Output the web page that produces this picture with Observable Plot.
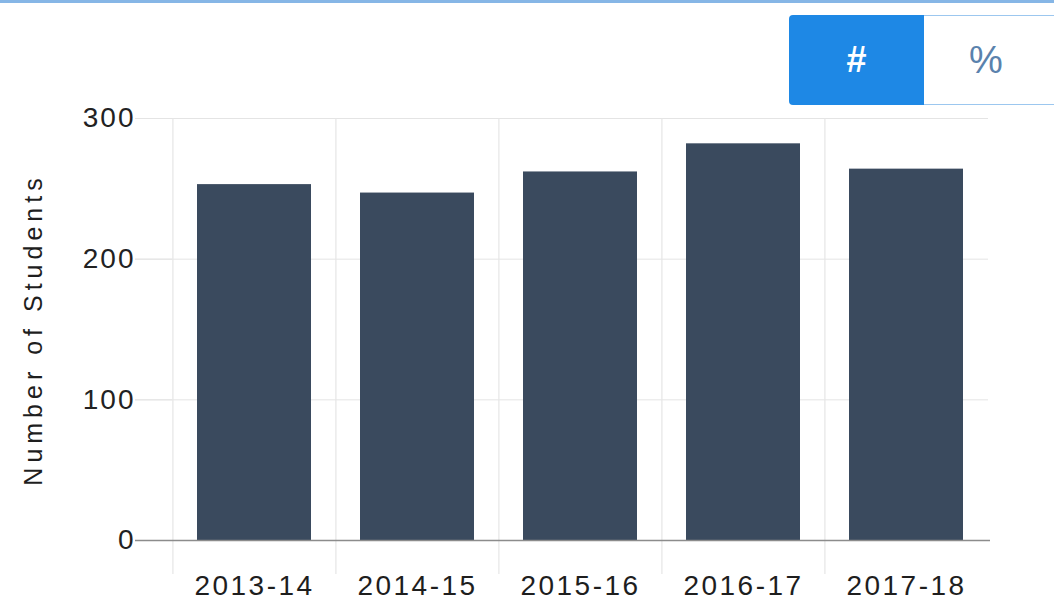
<!DOCTYPE html>
<html>
<head>
<meta charset="utf-8">
<script src="https://cdn.jsdelivr.net/npm/d3@7"></script>
<script src="https://cdn.jsdelivr.net/npm/@observablehq/plot@0.6"></script>
<style>
  html, body { margin: 0; padding: 0; background: #fff; overflow: hidden; }
  #wrap { position: relative; width: 1054px; height: 607px; font-family: "Liberation Sans", Arial, sans-serif; }
  #topline { position: absolute; left: 0; top: 0; width: 1054px; height: 0; border-top: 3px solid #86b6e6; }
  #chart { position: absolute; left: 0; top: 0; }
  #toggle { position: absolute; left: 789px; top: 15px; width: 270px; height: 90px; display: flex; }
  #toggle .on { width: 135px; height: 90px; background: #1e88e5; color: #fff; border-radius: 4px 0 0 4px;
    display: flex; align-items: center; justify-content: center; font-size: 36px; font-weight: bold; }
  #toggle .off { flex: 1; height: 88px; background: #fff; color: #5a82ad; border: 1px solid #9cc7ef; border-left: none;
    display: flex; align-items: center; justify-content: flex-start; padding-left: 45px; font-size: 38px; }
</style>
</head>
<body>
<div id="wrap">
  <div id="chart"></div>
  <div id="topline"></div>
  <div id="toggle"><div class="on">#</div><div class="off">%</div></div>
</div>
<script>
const years = ["2013-14", "2014-15", "2015-16", "2016-17", "2017-18"];
const students = [253, 247, 262, 282, 264];
const yTicks = [0, 100, 200, 300];
const yTitle = "Number of Students";

const data = years.map((y, i) => ({year: y, value: students[i]}));

const W = 1054, H = 607;
const mL = 172, mR = 66, mT = 118, mB = 67;
const step = (W - mL - mR) / years.length;

const chart = Plot.plot({
  width: W,
  height: H,
  marginLeft: mL,
  marginRight: mR,
  marginTop: mT,
  marginBottom: mB,
  style: {fontFamily: "'Liberation Sans', Arial, sans-serif", background: "transparent", overflow: "visible"},
  x: {domain: years, paddingInner: 0.3, paddingOuter: 0.15, label: null},
  y: {domain: [0, 300], label: null},
  marks: [
    Plot.gridY({ticks: [100, 200, 300], stroke: "#e4e4e4", strokeOpacity: 1, insetLeft: -37}),
    Plot.ruleX(years, {x: d => d, y1: 300, y2: 0, dx: -step / 2, stroke: "#e6e6e6", strokeWidth: 1.2, insetBottom: -34}),
    Plot.barY(data, {x: "year", y: "value", fill: "#3a4a5e"}),
    Plot.axisY({ticks: yTicks, tickSize: 37, tickPadding: 0, stroke: "#e4e4e4", fill: "#222", fontSize: 28, label: null}),
    Plot.axisX({tickSize: 0, tickPadding: 35, fill: "#1e1e1e", fontSize: 28, label: null}),
    Plot.ruleY([0], {stroke: "#8c8c8c", strokeWidth: 1.5, insetLeft: -37, insetRight: -2}),
    Plot.text([yTitle], {frameAnchor: "left", textAnchor: "middle", rotate: -90, dx: -139, dy: 0, fontSize: 25, fill: "#1e1e1e"})
  ]
});

document.getElementById("chart").appendChild(chart);

const svg = d3.select(chart);
svg.selectAll('g[aria-label="y-axis tick label"] text').style("letter-spacing", "2px");
svg.selectAll('g[aria-label="x-axis tick label"] text').style("letter-spacing", "2.5px");
svg.selectAll('g[aria-label="text"] text').style("letter-spacing", "5px");
</script>
</body>
</html>
